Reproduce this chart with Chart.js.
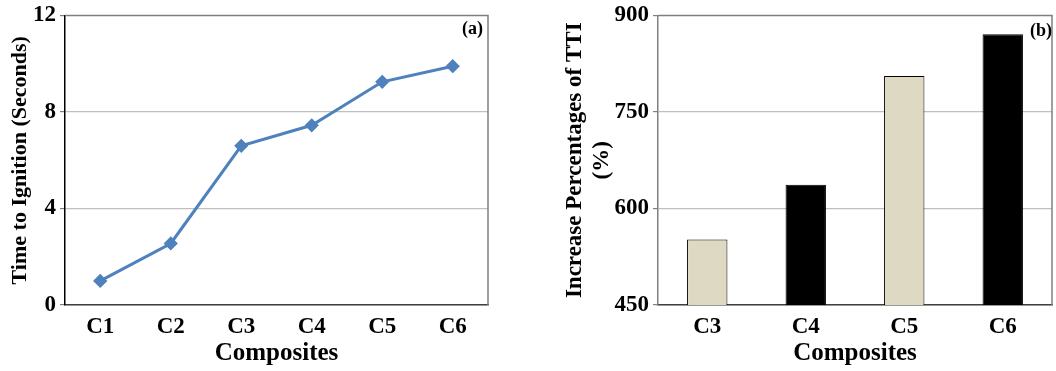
<!DOCTYPE html>
<html>
<head>
<meta charset="utf-8">
<script src="https://cdn.jsdelivr.net/npm/chart.js@4"></script>
<style>
    html, body { margin: 0; padding: 0; background: #fff; }
    .panel { position: absolute; top: 0; height: 371px; }
    #panel-a { left: 0; width: 500px; }
    #panel-b { left: 550px; width: 506px; }
</style>
</head>
<body>
<div class="panel" id="panel-a"><canvas id="chart-a"></canvas></div>
<div class="panel" id="panel-b"><canvas id="chart-b"></canvas></div>
<script>
// Panel (a) data
const ttiCategories = ['C1', 'C2', 'C3', 'C4', 'C5', 'C6'];
const ttiValues = [1.0, 2.55, 6.6, 7.45, 9.25, 9.9];
const ttiTicks = [0, 4, 8, 12];

// Panel (b) data
const increaseCategories = ['C3', 'C4', 'C5', 'C6'];
const increaseValues = [552, 637, 806, 871];
const increaseTicks = [450, 600, 750, 900];

const colors = {
    line: '#4F81BD',
    beige: '#DDD9C3',
    black: '#000000',
    grid: '#BFBFBF',
    frame: '#808080',
    text: '#000000'
};

const serif = "'Liberation Serif', 'Times New Roman', serif";

Chart.defaults.font.family = serif;
Chart.defaults.color = colors.text;
Chart.defaults.animation = false;

// Draws the top and right edges of the plot box plus the panel tag
function framePlugin(tag, dx, dy) {
    return {
        id: 'frame',
        afterDraw(chart) {
            const a = chart.chartArea;
            const ctx = chart.ctx;
            ctx.save();
            ctx.strokeStyle = colors.frame;
            ctx.lineWidth = 1.5;
            ctx.beginPath();
            ctx.moveTo(a.left, a.top);
            ctx.lineTo(a.right, a.top);
            ctx.lineTo(a.right, a.bottom);
            ctx.stroke();
            ctx.font = 'bold 18px ' + serif;
            ctx.fillStyle = colors.text;
            ctx.textAlign = 'right';
            ctx.textBaseline = 'middle';
            ctx.fillText(tag, a.right - dx, a.top + dy);
            ctx.restore();
        }
    };
}

function fixedWidth(w) {
    return function(scale) { scale.width = w; };
}
function fixedHeight(h) {
    return function(scale) { scale.height = h; };
}

function xScale() {
    return {
        offset: true,
        grid: { display: false },
        border: { color: '#404040', width: 1.5 },
        ticks: { font: { size: 23, weight: 'bold' }, padding: 0 },
        title: { display: true, text: 'Composites', font: { size: 25, weight: 'bold' }, padding: { top: 0, bottom: 2 } },
        afterFit: fixedHeight(66)
    };
}

function yScale(ticks, axisWidth, titleText, titleSize, axisColor, titlePad) {
    return {
        min: ticks[0],
        max: ticks[ticks.length - 1],
        afterBuildTicks: function(scale) {
            scale.ticks = ticks.map(function(v) { return { value: v }; });
        },
        grid: {
            color: function(c) {
                if (c.tick && c.tick.value === ticks[ticks.length - 1]) return 'rgba(0,0,0,0)';
                return colors.grid;
            },
            lineWidth: 1.2,
            drawTicks: true,
            tickLength: 5,
            tickColor: colors.frame
        },
        border: { color: axisColor, width: 1.5 },
        ticks: { font: { size: 23, weight: 'bold', lineHeight: 1 }, padding: 4 },
        title: { display: true, text: titleText, font: { size: titleSize, weight: 'bold' }, padding: titlePad, lineHeight: 1.1 },
        afterFit: fixedWidth(axisWidth)
    };
}

new Chart(document.getElementById('chart-a'), {
    type: 'line',
    data: {
        labels: ttiCategories,
        datasets: [{
            data: ttiValues,
            borderColor: colors.line,
            backgroundColor: colors.line,
            borderWidth: 3,
            pointStyle: 'rectRot',
            pointRadius: 5,
            tension: 0
        }]
    },
    options: {
        responsive: true,
        maintainAspectRatio: false,
        layout: { padding: { top: 14, right: 12, left: 0, bottom: 0 } },
        plugins: { legend: { display: false }, tooltip: { enabled: false } },
        scales: {
            x: xScale(),
            y: yScale(ttiTicks, 65, 'Time to Ignition (Seconds)', 22, '#000000', { top: 7, bottom: 0 })
        }
    },
    plugins: [framePlugin('(a)', 5, 14)]
});

new Chart(document.getElementById('chart-b'), {
    type: 'bar',
    data: {
        labels: increaseCategories,
        datasets: [{
            data: increaseValues,
            backgroundColor: [colors.beige, colors.black, colors.beige, colors.black],
            borderColor: colors.black,
            borderWidth: 1,
            borderSkipped: 'bottom',
            categoryPercentage: 1.0,
            barPercentage: 0.41
        }]
    },
    options: {
        responsive: true,
        maintainAspectRatio: false,
        layout: { padding: { top: 14, right: 4, left: 0, bottom: 0 } },
        plugins: { legend: { display: false }, tooltip: { enabled: false } },
        scales: {
            x: xScale(),
            y: yScale(increaseTicks, 108, ['Increase Percentages of TTI', '(%)'], 23, colors.frame, { top: 11, bottom: 0 })
        }
    },
    plugins: [framePlugin('(b)', 0, 16)]
});
</script>
</body>
</html>
